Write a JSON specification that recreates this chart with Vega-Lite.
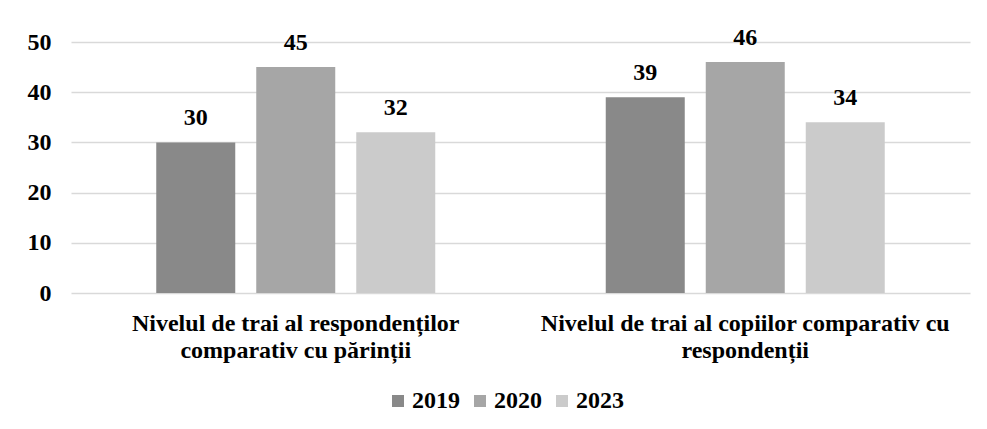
{
  "$schema": "https://vega.github.io/schema/vega-lite/v6.json",
  "width": 899,
  "height": 251,
  "autosize": {"type": "none"},
  "padding": {"left": 71, "top": 42, "right": 17, "bottom": 136},
  "background": "white",
  "config": {
    "view": {"stroke": null},
    "font": "Liberation Serif",
    "text": {"font": "Liberation Serif"}
  },
  "data": {
    "values": [
      {"cat": "Nivelul de trai al respondenților comparativ cu părinții", "year": "2019", "value": 30},
      {"cat": "Nivelul de trai al respondenților comparativ cu părinții", "year": "2020", "value": 45},
      {"cat": "Nivelul de trai al respondenților comparativ cu părinții", "year": "2023", "value": 32},
      {"cat": "Nivelul de trai al copiilor comparativ cu respondenții", "year": "2019", "value": 39},
      {"cat": "Nivelul de trai al copiilor comparativ cu respondenții", "year": "2020", "value": 46},
      {"cat": "Nivelul de trai al copiilor comparativ cu respondenții", "year": "2023", "value": 34}
    ]
  },
  "encoding": {
    "x": {
      "field": "cat",
      "type": "nominal",
      "sort": null,
      "scale": {"paddingInner": 0, "paddingOuter": 0},
      "axis": {
        "title": null,
        "labelAngle": 0,
        "domain": false,
        "ticks": false,
        "labelPadding": 18,
        "labelFont": "Liberation Serif",
        "labelFontWeight": "bold",
        "labelFontSize": 24,
        "labelColor": "#000000",
        "labelLineHeight": 27,
        "labelLimit": 0,
        "labelExpr": "datum.label == 'Nivelul de trai al respondenților comparativ cu părinții' ? ['Nivelul de trai al respondenților', 'comparativ cu părinții'] : ['Nivelul de trai al copiilor comparativ cu', 'respondenții']"
      }
    },
    "xOffset": {
      "field": "year",
      "type": "nominal",
      "scale": {"paddingInner": 0.21, "paddingOuter": 0.8525}
    },
    "y": {
      "field": "value",
      "type": "quantitative",
      "scale": {"domain": [0, 50], "nice": false},
      "axis": {
        "title": null,
        "values": [0, 10, 20, 30, 40, 50],
        "domain": false,
        "ticks": false,
        "labelPadding": 20,
        "labelFont": "Liberation Serif",
        "labelFontWeight": "bold",
        "labelFontSize": 24,
        "labelColor": "#000000",
        "gridColor": "#d9d9d9",
        "gridWidth": 1.5
      }
    }
  },
  "layer": [
    {
      "mark": {"type": "bar"},
      "encoding": {
        "color": {
          "field": "year",
          "type": "nominal",
          "scale": {"domain": ["2019", "2020", "2023"], "range": ["#898989", "#a6a6a6", "#cbcbcb"]},
          "legend": {
            "title": null,
            "orient": "none",
            "direction": "horizontal",
            "legendX": 315,
            "legendY": 347,
            "symbolType": "square",
            "symbolSize": 144,
            "symbolStrokeWidth": 0,
            "labelFont": "Liberation Serif",
            "labelFontWeight": "bold",
            "labelFontSize": 24,
            "labelColor": "#000000",
            "labelOffset": 2,
            "columnPadding": 8
          }
        }
      }
    },
    {
      "mark": {"type": "text", "dy": -24, "baseline": "middle", "align": "center", "font": "Liberation Serif", "fontWeight": "bold", "fontSize": 24, "color": "#000000"},
      "encoding": {
        "text": {"field": "value", "type": "quantitative"}
      }
    }
  ]
}
